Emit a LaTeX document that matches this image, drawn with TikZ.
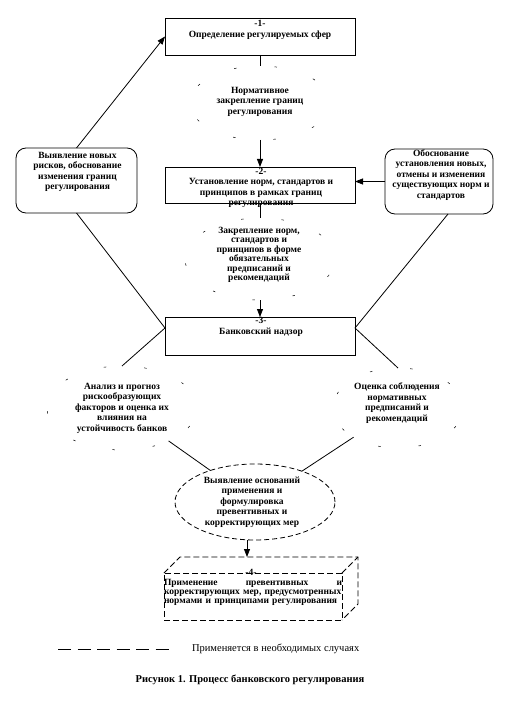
\documentclass[tikz,border=0pt]{standalone}
\usepackage{fontspec}
\setmainfont{Liberation Serif}
\usetikzlibrary{arrows.meta,shapes.geometric}
\begin{document}
\begin{tikzpicture}[x=1pt,y=-1pt,
  every node/.style={inner sep=0pt, outer sep=0pt},
  lbl/.style={font=\fontsize{9.5}{10.5}\selectfont\bfseries, align=center},
  stagebox/.style={draw, line width=0.8pt, rectangle, minimum width=190pt},
  sidebox/.style={draw, line width=0.8pt, rectangle, rounded corners=10pt},
  ghost/.style={draw, ellipse, line width=0.5pt, dash pattern=on 2.5pt off 38pt, dash phase=12pt},
  dashell/.style={draw, ellipse, line width=0.8pt, dash pattern=on 5pt off 3pt},
  dashbox/.style={line width=0.8pt, dash pattern=on 6pt off 3pt},
  conn/.style={line width=0.8pt},
  arr/.style={conn, -{Triangle[length=8pt,width=6pt]}},
]
\useasboundingbox[fill=white] (0,0) rectangle (529,714);

% main stages
\node[stagebox, minimum height=37pt] (b1) at (260,36.5) {};
\node[lbl] (b1t) at (260,30) {-1-\\Определение регулируемых сфер};
\node[stagebox, minimum height=36pt] (b2) at (260,185) {};
\node[lbl] (b2t) at (261,188) {-2-\\Установление норм, стандартов и\\принципов в рамках границ\\регулирования};
\node[stagebox, minimum height=38pt] (b3) at (260,336) {};
\node[lbl] (b3t) at (261,327) {-3-\\Банковский надзор};

% side boxes
\node[sidebox, minimum width=121pt, minimum height=65pt] (lb) at (76.5,180.5) {};
\node[lbl] (lbt) at (77.5,172) {Выявление новых\\рисков, обоснование\\изменения границ\\регулирования};
\node[sidebox, minimum width=108pt, minimum height=65pt] (rb) at (439,181.5) {};
\node[lbl] (rbt) at (441,175) {Обоснование\\установления новых,\\отмены и изменения\\существующих норм и\\стандартов};

% ghost ellipses
\node[ghost, minimum width=140pt, minimum height=74pt] (e1) at (260,103) {};
\node[lbl] (e1t) at (260,101.5) {Нормативное\\закрепление границ\\регулирования};
\node[ghost, minimum width=150pt, minimum height=82pt] (e2) at (260,259) {};
\node[lbl, font=\fontsize{9.5}{9.5}\selectfont\bfseries] (e2t) at (259,255) {Закрепление норм,\\стандартов и\\принципов в форме\\обязательных\\предписаний и\\рекомендаций};
\node[ghost, minimum width=150pt, minimum height=84pt] (e3) at (122,408) {};
\node[lbl] (e3t) at (122,408) {Анализ и прогноз\\рискообразующих\\факторов и оценка их\\влияния на\\устойчивость банков};
\node[ghost, minimum width=130pt, minimum height=80pt] (e4) at (398,408) {};
\node[lbl] (e4t) at (397,403) {Оценка соблюдения\\нормативных\\предписаний и\\рекомендаций};

% central dashed ellipse
\node[dashell, minimum width=160pt, minimum height=76pt] (ec) at (255,502) {};
\node[lbl] (ect) at (252,502) {Выявление оснований\\применения и\\формулировка\\превентивных и\\корректирующих мер};

% 3D dashed box
\node[draw, dashbox, minimum width=178pt, minimum height=47pt] (b4) at (253,596.5) {};
\draw[dashbox] (b4.north west) -- ++(16,-16) -- ++(178,0) -- ++(0,47) -- (b4.south east);
\draw[dashbox] (b4.north east) -- ++(16,-16);
\node[lbl] (b4n) at (251,572.5) {-4-};
\node[font=\fontsize{9.5}{9}\selectfont\bfseries, text width=178pt, align=left, anchor=north west] (b4t) at (164,579)
  {Применение\hfill превентивных\hfill и\\корректирующих мер, предусмотренных\\нормами и принципами регулирования};
\coordinate (b4top) at (247,557);

% connectors
\draw[conn] (b1) -- (e1);
\draw[arr] (e1) -- (b2);
\draw[conn] (b2) -- (e2);
\draw[arr] (e2) -- (b3);
\draw[arr] (lb.north) -- (b1.west);
\draw[conn] (lb.south) -- ([yshift=8pt]b3.west);
\draw[conn] ([xshift=9pt]rb.south) -- ([yshift=8pt]b3.east);
\draw[arr] (rb.west) -- (rb.west -| b2.east);
\draw[conn] ([yshift=8pt]b3.west) -- (e3.north);
\draw[conn] ([yshift=8pt]b3.east) -- (e4.north);
\draw[conn] (e3) -- (ec);
\draw[conn] (e4) -- (ec);
\draw[arr] (ec.south -| b4top) -- (b4top);

% legend and caption
\coordinate (lg1) at (58,649);
\coordinate (lg2) at (170,649);
\draw[line width=0.9pt, dash pattern=on 13pt off 6.5pt] (lg1) -- (lg2);
\node[font=\fontsize{10.5}{12}\selectfont, anchor=west] (lgt) at (192,649) {Применяется в необходимых случаях};
\node[font=\fontsize{10.5}{12}\selectfont\bfseries] (cap) at (250,680) {Рисунок 1. Процесс банковского регулирования};
\end{tikzpicture}
\end{document}
